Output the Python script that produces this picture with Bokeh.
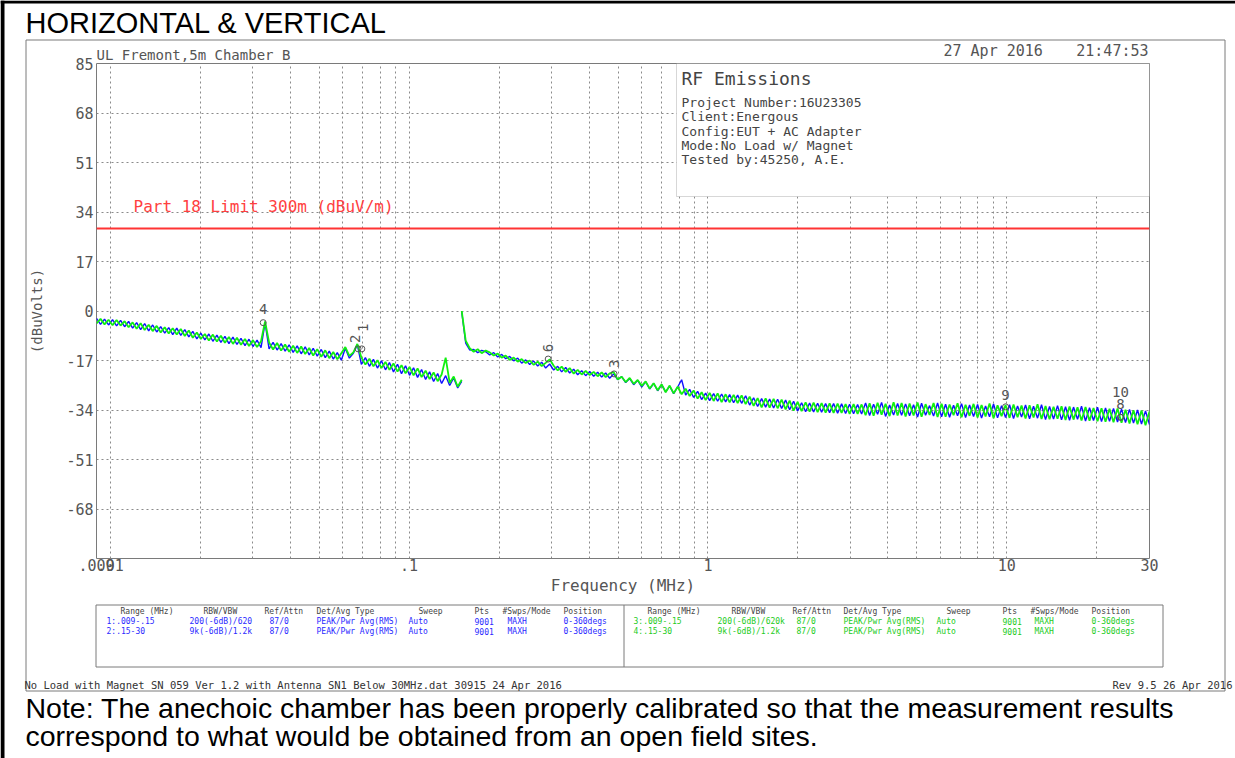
import numpy as np
from bokeh.plotting import figure
from bokeh.models import Range1d, FixedTicker, Label, BoxAnnotation, ColumnDataSource
from bokeh.embed import file_html
from bokeh.resources import INLINE
from bokeh.core.properties import value

# ---------------- data ----------------
range1_start, range1_stop = 0.009, 0.15   # MHz
range2_start, range2_stop = 0.15, 30.0    # MHz

# trace readings (dBuV), evenly spaced in log-frequency over each range
blue_r1 = [-2.5, -4.6, -2.8, -4.8, -3.0, -5.1, -3.2, -5.4, -3.6, -5.9,
           -4.0, -6.4, -4.3, -6.8, -4.8, -7.2, -5.4, -7.6, -5.7, -8.1,
           -5.9, -8.4, -6.4, -8.9, -7.0, -9.6, -7.6, -9.9, -7.9, -10.4,
           -8.3, -10.8, -8.7, -11.2, -9.0, -11.5, -9.4, -11.9, -9.7, -12.2,
           -10.0, -12.6, -4.0, -13.0, -10.8, -13.4, -11.2, -13.8, -11.6, -14.2,
           -12.0, -14.7, -12.3, -15.1, -12.8, -15.5, -13.2, -16.0, -13.8, -16.5,
           -14.3, -16.9, -12.8, -16.2, -14.5, -11.6, -18.3, -16.0, -19.0, -16.6,
           -19.6, -17.1, -20.2, -17.7, -20.9, -18.3, -21.5, -18.8, -22.1, -19.5,
           -22.8, -20.1, -23.5, -20.9, -24.2, -21.5, -24.9, -22.2, -25.6, -23.0,
           -26.4, -24.2]
green_r1 = [-4.3, -2.7, -4.6, -3.0, -4.9, -3.1, -5.0, -3.5, -5.6, -3.9,
            -6.1, -4.2, -6.5, -4.7, -6.9, -5.1, -7.4, -5.6, -7.7, -5.9,
            -8.1, -6.2, -8.6, -6.7, -9.2, -7.4, -9.6, -7.9, -10.1, -8.1,
            -10.5, -8.5, -10.9, -8.9, -11.3, -9.2, -11.6, -9.6, -12.0, -10.0,
            -12.4, -10.4, -3.6, -10.8, -13.2, -11.0, -13.6, -11.5, -14.0, -11.9,
            -14.4, -12.2, -14.8, -12.7, -15.3, -13.1, -15.7, -13.5, -16.2, -14.1,
            -16.6, -14.5, -12.4, -15.4, -14.2, -11.3, -16.0, -18.4, -16.4, -19.0,
            -16.9, -19.6, -17.5, -20.2, -18.0, -20.8, -18.6, -21.4, -19.2, -22.1,
            -19.7, -22.7, -20.5, -23.4, -21.1, -24.1, -21.8, -16.0, -24.7, -22.5,
            -26.0, -23.6]
blue_r2 = [-0.3, -11.0, -13.4, -13.2, -14.3, -13.5, -14.0, -15.1, -14.3, -15.8,
           -14.9, -16.4, -15.6, -17.1, -16.2, -17.9, -16.8, -18.4, -17.2, -18.9,
           -17.6, -19.6, -18.2, -20.3, -19.0, -20.9, -19.4, -21.3, -20.0, -21.9,
           -20.5, -22.2, -20.8, -22.4, -21.0, -22.7, -21.3, -23.1, -21.6, -23.6,
           -22.5, -24.6, -23.2, -25.3, -23.8, -26.1, -24.3, -26.8, -24.9, -27.4,
           -25.3, -27.8, -25.8, -28.4, -26.1, -23.6, -28.9, -26.9, -29.7, -27.6,
           -30.4, -28.2, -30.8, -28.4, -31.0, -28.5, -31.2, -28.7, -31.5, -28.9,
           -31.7, -29.1, -32.3, -29.8, -32.8, -30.1, -33.0, -30.2, -33.3, -30.3,
           -33.5, -30.6, -33.9, -31.0, -34.3, -31.5, -34.6, -31.6, -34.7, -31.7,
           -34.8, -31.8, -34.9, -31.8, -35.1, -31.9, -35.2, -32.0, -35.3, -32.1,
           -35.4, -31.6, -35.9, -32.0, -35.5, -31.4, -36.2, -32.3, -35.7, -31.8,
           -35.8, -31.9, -36.0, -32.2, -36.4, -31.7, -35.8, -32.5, -36.1, -31.6,
           -36.3, -32.0, -36.5, -32.4, -36.0, -31.8, -36.6, -32.3, -36.2, -32.1,
           -36.8, -32.6, -36.3, -31.9, -36.7, -32.5, -36.6, -32.2, -36.9, -32.6,
           -36.4, -32.3, -37.0, -32.7, -36.8, -32.2, -37.3, -32.8, -37.1, -32.5,
           -37.4, -32.9, -37.5, -33.0, -37.2, -32.7, -37.8, -33.2, -37.6, -33.0,
           -38.0, -33.3, -37.9, -33.5, -38.1, -33.7, -38.3, -33.8, -38.5, -34.0,
           -38.8, -34.3, -39.0]
green_r2 = [0.0, -10.2, -12.8, -14.0, -13.1, -14.5, -13.6, -14.2, -15.3, -14.6,
            -16.0, -15.3, -16.8, -16.0, -17.4, -16.5, -17.9, -17.0, -18.5, -17.4,
            -18.9, -17.8, -16.6, -18.8, -20.4, -19.1, -20.9, -19.6, -21.5, -20.2,
            -21.8, -20.6, -22.0, -20.9, -22.4, -21.1, -22.7, -21.4, -21.0, -23.5,
            -22.6, -24.4, -23.0, -25.0, -23.7, -25.7, -24.2, -26.6, -24.8, -27.2,
            -25.2, -27.9, -25.6, -28.3, -26.0, -28.6, -26.7, -29.2, -27.3, -30.1,
            -27.9, -30.6, -28.1, -30.9, -28.3, -31.3, -28.6, -31.4, -28.8, -31.6,
            -29.0, -32.0, -29.4, -32.6, -29.9, -33.1, -30.0, -33.2, -30.2, -33.4,
            -30.4, -33.8, -30.8, -34.2, -31.2, -34.4, -31.4, -34.6, -31.5, -34.7,
            -31.6, -34.9, -31.7, -35.0, -31.8, -35.0, -32.0, -35.3, -32.0, -35.3,
            -32.1, -35.8, -31.7, -36.0, -31.5, -35.6, -31.9, -36.1, -31.3, -35.9,
            -31.6, -36.2, -31.8, -35.9, -31.4, -36.3, -32.0, -35.7, -31.6, -36.4,
            -31.9, -36.3, -32.1, -35.8, -31.7, -36.5, -32.2, -36.0, -31.9, -36.6,
            -32.3, -36.2, -31.8, -36.8, -32.4, -36.1, -32.3, -36.7, -32.1, -36.5,
            -32.5, -36.9, -32.4, -36.6, -32.0, -37.1, -32.6, -37.2, -32.9, -37.0,
            -32.7, -37.4, -32.8, -37.3, -33.1, -37.6, -33.0, -37.7, -33.3, -37.9,
            -33.4, -38.0, -33.6, -38.2, -33.5, -38.4, -33.9, -38.6, -34.1, -38.9,
            -34.2, -39.2, -34.5]

limit_freq = [0.009, 30.0]
limit_dbuv = [28.3, 28.3]
limit_text = "Part 18 Limit 300m (dBuV/m)"

marker_ids = ["4", "2", "1", "6", "3", "9", "8", "10"]
marker_freq = [0.0325, 0.0675, 0.0695, 0.292, 0.485, 9.9, 24.0, 24.0]
marker_dbuv = [-4.0, -13.0, -13.0, -16.5, -21.6, -32.9, -36.5, -36.5]

x_ticks = [0.009, 0.01, 0.1, 1, 10, 30]
x_tick_labels = [".009", ".01", ".1", "1", "10", "30"]
x_minor = [0.02, 0.03, 0.04, 0.05, 0.06, 0.07, 0.08, 0.09,
           0.2, 0.3, 0.4, 0.5, 0.6, 0.7, 0.8, 0.9,
           2, 3, 4, 5, 6, 7, 8, 9, 20]
y_ticks = [-68, -51, -34, -17, 0, 17, 34, 51, 68, 85]
y_tick_labels = ["-68", "-51", "-34", "-17", "0", "17", "34", "51", "68", "85"]

title_text = "HORIZONTAL & VERTICAL"
site_text = "UL Fremont,5m Chamber B"
date_text = "27 Apr 2016"
time_text = "21:47:53"
info_title = "RF Emissions"
info_lines = ["Project Number:16U23305", "Client:Energous", "Config:EUT + AC Adapter",
              "Mode:No Load w/ Magnet", "Tested by:45250, A.E."]
table_header = ["Range (MHz)", "RBW/VBW", "Ref/Attn", "Det/Avg Type", "Sweep", "Pts",
                "#Swps/Mode", "Position"]
table_rows_blue = [["1:.009-.15", "200(-6dB)/620", "87/0", "PEAK/Pwr Avg(RMS)", "Auto", "9001", "MAXH", "0-360degs"],
                   ["2:.15-30", "9k(-6dB)/1.2k", "87/0", "PEAK/Pwr Avg(RMS)", "Auto", "9001", "MAXH", "0-360degs"]]
table_rows_green = [["3:.009-.15", "200(-6dB)/620k", "87/0", "PEAK/Pwr Avg(RMS)", "Auto", "9001", "MAXH", "0-360degs"],
                    ["4:.15-30", "9k(-6dB)/1.2k", "87/0", "PEAK/Pwr Avg(RMS)", "Auto", "9001", "MAXH", "0-360degs"]]
footer_left = "No Load with Magnet SN 059 Ver 1.2 with Antenna SN1 Below 30MHz.dat 30915 24 Apr 2016"
footer_right = "Rev 9.5 26 Apr 2016"
note_lines = ["Note: The anechoic chamber has been properly calibrated so that the measurement results",
              "correspond to what would be obtained from an open field sites."]

# ---------------- styles / layout ----------------
MONO = "DejaVu Sans Mono"
SANS = "Liberation Sans"
GRAY = "#555555"
LINEGRAY = "#7a7a7a"
BLUE = "#1010ff"
GREEN = "#10f010"
W, H = 1235, 758
FL, FB = 96, 558          # frame left / bottom in page pixels
PIN = {"position": "absolute", "top": "0px", "left": "0px"}

# ---------- background sheet (page-pixel coordinates, y downward) ----------
bg = figure(width=W, height=H, x_range=Range1d(0, W), y_range=Range1d(H, 0),
            min_border=0, toolbar_location=None, output_backend="svg",
            x_axis_location=None, y_axis_location=None, styles=PIN)
bg.grid.visible = False
bg.outline_line_color = None
bg.background_fill_color = "white"
bg.border_fill_color = "white"

bg.quad(left=[0, 0], right=[4, W], top=[0, 0], bottom=[H, 3], fill_color="black", line_color=None)
bg.multi_line(xs=[[25.5, 1224.5, 1224.5, 25.5, 25.5],
                  [95.5, 1162.5, 1162.5, 95.5, 95.5],
                  [623.5, 623.5]],
              ys=[[39.5, 39.5, 690.5, 690.5, 39.5],
                  [604.5, 604.5, 666.5, 666.5, 604.5],
                  [604.5, 666.5]],
              line_color=LINEGRAY, line_width=1)


def bgtext(xs, ys, texts, size, color, font=MONO, align="left", baseline="middle"):
    bg.text(x=xs, y=ys, text=texts, text_font=value(font), text_font_size=f"{size}px",
            text_color=color, text_align=align, text_baseline=baseline)


bgtext([25], [22.5], [title_text], 29, "black", font=SANS)
bgtext([96], [54], [site_text], 14, GRAY)
bgtext([943], [50], [date_text], 15, GRAY)
bgtext([1148], [50], [time_text], 15, GRAY, align="right")

hdr_x_l = [120, 203, 264, 316, 418, 474, 502, 563]
row_x_l = [106, 189, 269, 316, 408, 474, 507, 563]
hdr_x_r = [647, 731, 792, 843, 946, 1002, 1030, 1091]
row_x_r = [633, 717, 796, 843, 936, 1002, 1034, 1091]
bgtext(hdr_x_l + hdr_x_r, [611] * 16, table_header + table_header, 8, "#444444")
for r, row in enumerate(table_rows_blue):
    bgtext(row_x_l, [621 + r * 10] * len(row), row, 8, "#2a2aff")
for r, row in enumerate(table_rows_green):
    bgtext(row_x_r, [621 + r * 10] * len(row), row, 8, "#22cc22")

bgtext([24], [684], [footer_left], 10.5, "#333333")
bgtext([1232], [684], [footer_right], 10.5, "#333333", align="right")
bgtext([25, 25], [707, 735], note_lines, 28.5, "black", font=SANS)

# ---------- main chart (transparent, laid over the sheet) ----------
p = figure(x_axis_type="log", x_range=Range1d(0.009, 30), y_range=Range1d(-85, 85),
           frame_width=1053, frame_height=495,
           min_border_left=FL, min_border_right=W - FL - 1053, min_border_top=63,
           min_border_bottom=H - 63 - 495,
           output_backend="svg", toolbar_location=None, styles=PIN)
p.background_fill_alpha = 0
p.border_fill_alpha = 0
p.outline_line_color = LINEGRAY
p.outline_line_width = 1

for ax in (p.xaxis, p.yaxis):
    ax.axis_line_color = None
    ax.major_tick_line_color = None
    ax.minor_tick_line_color = None
    ax.major_tick_out = 0
    ax.major_tick_in = 0
    ax.minor_tick_out = 0
    ax.minor_tick_in = 0
    ax.major_label_text_font = MONO
    ax.major_label_text_font_size = "15px"
    ax.major_label_text_color = GRAY
    ax.axis_label_text_font = MONO
    ax.axis_label_text_font_style = "normal"
    ax.axis_label_text_color = GRAY

p.xaxis.ticker = FixedTicker(ticks=x_ticks, minor_ticks=x_minor)
p.xaxis.major_label_overrides = dict(zip(x_ticks, x_tick_labels))
p.xaxis.major_label_standoff = 0
p.xaxis.axis_label = "Frequency (MHz)"
p.xaxis.axis_label_text_font_size = "16px"
p.xaxis.axis_label_standoff = 2

p.yaxis.ticker = FixedTicker(ticks=y_ticks)
p.yaxis.major_label_overrides = dict(zip(y_ticks, y_tick_labels))
p.yaxis.major_label_standoff = 3
p.yaxis.axis_label = "(dBuVolts)"
p.yaxis.axis_label_text_font_size = "14px"
p.yaxis.axis_label_standoff = 18

for g in (p.xgrid, p.ygrid):
    g.grid_line_color = "#8a8a8a"
    g.grid_line_dash = "2 3"
    g.grid_line_width = 1
p.xgrid.minor_grid_line_color = "#8a8a8a"
p.xgrid.minor_grid_line_dash = "2 3"

f1b = np.geomspace(range1_start, range1_stop, len(blue_r1))
f1g = np.geomspace(range1_start, range1_stop, len(green_r1))
f2b = np.geomspace(range2_start, range2_stop, len(blue_r2))
f2g = np.geomspace(range2_start, range2_stop, len(green_r2))

p.line(f1b, blue_r1, line_color=BLUE, line_width=1.4)
p.line(f2b, blue_r2, line_color=BLUE, line_width=1.4)
p.line(f1g, green_r1, line_color=GREEN, line_width=1.8)
p.line(f2g, green_r2, line_color=GREEN, line_width=1.8)
p.line(limit_freq, limit_dbuv, line_color="#ff3333", line_width=2)

mk_angle = [0, np.pi / 2, np.pi / 2, np.pi / 2, np.pi / 2, 0, 0, 0]
mk_dy = [-14, -10, -21, -11, -10, -12, -13, -25]
mk_dx = [0, -3, 1, 0, 0, 0, 0, 0]
msrc = ColumnDataSource(dict(f=marker_freq, v=marker_dbuv, t=marker_ids, a=mk_angle,
                             dy=mk_dy, dx=mk_dx))
p.scatter("f", "v", source=msrc, marker="circle", size=6, fill_color=None, line_color=GRAY)
p.text("f", "v", text="t", angle="a", x_offset="dx", y_offset="dy", source=msrc,
       text_font=value(MONO), text_font_size="14px", text_color=GRAY,
       text_align="center", text_baseline="middle")


def sx(rx):
    return rx - FL


def sy(ry):
    return FB - ry


# info box (white, hides the grid) and its texts
p.add_layout(BoxAnnotation(left=sx(676), right=sx(1149), top=sy(63), bottom=sy(196),
                           left_units="screen", right_units="screen",
                           top_units="screen", bottom_units="screen",
                           fill_color="white", fill_alpha=1.0,
                           line_color=LINEGRAY, line_width=1))


def lab(text, rx, ry, size, color=GRAY, font=MONO, align="left"):
    p.add_layout(Label(x=sx(rx), y=sy(ry), x_units="screen", y_units="screen", text=text,
                       text_font=font, text_font_size=f"{size}px", text_color=color,
                       text_align=align, text_baseline="middle"))


lab(info_title, 681, 78, 18, color="#444444")
for i, line in enumerate(info_lines):
    lab(line, 681, 102 + i * 14.3, 13, color="#444444")
lab(limit_text, 133, 206, 16, color="#ff4040")

open("out.html", "w").write(file_html([bg, p], INLINE))
